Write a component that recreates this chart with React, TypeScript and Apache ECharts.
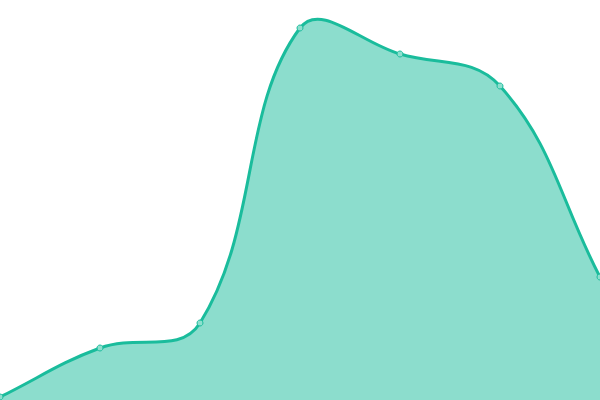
import React, { useEffect, useRef } from 'react';
import * as echarts from 'echarts';

const categories = ['A', 'B', 'C', 'D', 'E', 'F', 'G'];
const values = [3, 52, 77, 372, 346, 314, 123];

const SMOOTH = 0.4;

// smooth path through the points, without clamping of the control points
function buildPath(pts: number[][], baseY: number) {
  const cps: number[][][] = pts.map((p, i) => {
    const prev = pts[i - 1] || p;
    const next = pts[i + 1] || p;
    const vx = next[0] - prev[0];
    const vy = next[1] - prev[1];
    let d0 = Math.hypot(p[0] - prev[0], p[1] - prev[1]);
    let d1 = Math.hypot(next[0] - p[0], next[1] - p[1]);
    const sum = d0 + d1;
    if (sum) {
      d0 /= sum;
      d1 /= sum;
    }
    return [
      [p[0] - vx * SMOOTH * d0, p[1] - vy * SMOOTH * d0],
      [p[0] + vx * SMOOTH * d1, p[1] + vy * SMOOTH * d1]
    ];
  });
  let d = `M${pts[0][0]},${pts[0][1]}`;
  for (let i = 1; i < pts.length; i++) {
    const a = cps[i - 1][1];
    const b = cps[i][0];
    d += ` C${a[0]},${a[1]} ${b[0]},${b[1]} ${pts[i][0]},${pts[i][1]}`;
  }
  const last = pts[pts.length - 1];
  const area = `${d} L${last[0]},${baseY} L${pts[0][0]},${baseY} Z`;
  return { line: d, area };
}

const App: React.FC = () => {
  const chartRef = useRef<HTMLDivElement>(null);

  useEffect(() => {
    if (!chartRef.current) return;
    const chart = echarts.init(chartRef.current, null, { renderer: 'svg' });

    const option: echarts.EChartsOption = {
      animation: false,
      grid: { left: 0, right: 0, top: 0, bottom: 0 },
      xAxis: {
        type: 'category',
        data: categories,
        boundaryGap: false,
        show: false
      },
      yAxis: {
        type: 'value',
        min: 0,
        max: 400,
        show: false
      },
      series: [
        {
          type: 'custom',
          data: values,
          clip: false,
          renderItem: (params: any, api: any) => {
            if (params.dataIndex !== 0) return null;
            const pts = values.map((v, i) => api.coord([i, v]));
            const baseY = api.coord([0, 0])[1];
            const { line, area } = buildPath(pts, baseY);
            return {
              type: 'group',
              children: [
                {
                  type: 'path',
                  shape: { pathData: area },
                  style: { fill: 'rgba(26,188,156,0.5)', stroke: 'none' }
                },
                {
                  type: 'path',
                  shape: { pathData: line },
                  style: { fill: 'none', stroke: '#1abc9c', lineWidth: 3 }
                }
              ]
            };
          }
        },
        {
          type: 'line',
          data: values,
          symbol: 'circle',
          symbolSize: 6,
          z: 3,
          lineStyle: { width: 0, opacity: 0 },
          itemStyle: {
            color: '#8ddfce',
            borderColor: '#1abc9c',
            borderWidth: 1
          }
        }
      ]
    };

    chart.setOption(option);
    return () => {
      chart.dispose();
    };
  }, []);

  return (
    <div
      ref={chartRef}
      style={{ position: 'absolute', left: 0, top: 0, width: 600, height: 400 }}
    />
  );
};

export default App;
